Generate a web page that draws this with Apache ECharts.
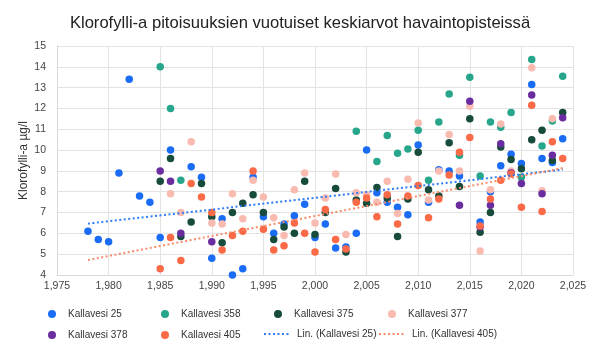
<!DOCTYPE html>
<html>
<head>
<meta charset="utf-8">
<script src="https://cdn.jsdelivr.net/npm/echarts@6/dist/echarts.min.js"></script>
<style>
    html, body { margin: 0; padding: 0; background: #fff; }
    #chart { width: 600px; height: 353px; }
</style>
</head>
<body>
<div id="chart"></div>
<script>
// vuosi, keskiarvo (µg/l)
const kallavesi25 = [
    [1978, 6.1], [1979, 5.7], [1980, 5.6], [1981, 8.9], [1982, 13.4], [1983, 7.8], [1984, 7.5],
    [1985, 5.8], [1986, 10.0], [1988, 9.2], [1989, 8.7], [1990, 4.8], [1991, 6.7], [1992, 4.0],
    [1993, 4.3], [1994, 8.7], [1995, 6.8], [1996, 6.0], [1997, 6.45], [1998, 6.85], [1999, 7.4],
    [2000, 5.8], [2001, 6.45], [2002, 5.3], [2003, 5.35], [2004, 6.0], [2005, 10.0], [2006, 7.95],
    [2007, 7.5], [2008, 7.25], [2009, 6.9], [2010, 10.25], [2011, 7.5], [2012, 9.05], [2013, 9.0],
    [2014, 8.75], [2016, 6.55], [2017, 8.0], [2018, 9.25], [2019, 9.8], [2020, 9.35], [2021, 13.15],
    [2022, 9.6], [2023, 9.4], [2024, 10.55]
];
const kallavesi358 = [
    [1985, 14.0], [1986, 12.0], [1987, 8.55], [2004, 10.9], [2006, 9.45], [2007, 10.7], [2008, 9.85],
    [2009, 10.05], [2010, 10.95], [2011, 8.55], [2012, 11.35], [2013, 12.7], [2014, 9.75], [2015, 13.5],
    [2016, 8.75], [2017, 11.35], [2018, 11.1], [2019, 11.8], [2020, 8.7], [2021, 14.35], [2022, 10.2],
    [2023, 11.4], [2024, 13.55]
];
const kallavesi375 = [
    [1985, 8.5], [1986, 9.6], [1987, 5.85], [1988, 6.55], [1989, 8.4], [1990, 6.8], [1991, 5.55],
    [1992, 7.0], [1993, 7.45], [1994, 7.85], [1995, 7.0], [1996, 5.7], [1997, 6.3], [1998, 6.0],
    [1999, 8.5], [2000, 5.95], [2001, 7.0], [2002, 8.15], [2003, 5.1], [2004, 7.6], [2005, 7.45],
    [2006, 8.2], [2007, 7.7], [2008, 5.85], [2009, 7.65], [2010, 9.9], [2011, 8.1], [2012, 7.8],
    [2013, 10.35], [2014, 8.25], [2015, 11.5], [2016, 6.05], [2017, 7.0], [2018, 10.15], [2019, 9.55],
    [2020, 9.1], [2021, 10.5], [2022, 10.95], [2023, 9.5], [2024, 11.8]
];
const kallavesi377 = [
    [1986, 7.9], [1987, 7.0], [1988, 10.4], [1990, 6.5], [1991, 6.45], [1992, 7.9], [1993, 6.7],
    [1994, 8.55], [1995, 7.75], [1996, 6.75], [1997, 5.9], [1998, 8.1], [1999, 8.9], [2000, 6.5],
    [2001, 7.7], [2002, 8.85], [2003, 5.95], [2004, 7.95], [2005, 7.85], [2006, 7.5], [2007, 8.5],
    [2008, 6.95], [2009, 8.6], [2010, 11.3], [2011, 7.6], [2012, 9.0], [2013, 10.75], [2014, 9.0],
    [2015, 12.1], [2016, 5.15], [2017, 8.1], [2018, 11.25], [2019, 9.0], [2021, 13.95], [2022, 8.05],
    [2023, 11.5]
];
const kallavesi378 = [
    [1985, 9.0], [1986, 8.5], [1987, 6.0], [1990, 5.6], [2014, 7.35], [2015, 12.35], [2016, 6.3],
    [2017, 7.35], [2018, 10.3], [2019, 8.9], [2020, 8.4], [2021, 12.65], [2022, 7.9], [2023, 9.75],
    [2024, 11.55]
];
const kallavesi405 = [
    [1985, 4.3], [1986, 5.8], [1987, 4.7], [1988, 8.4], [1989, 7.75], [1990, 7.0], [1991, 5.2],
    [1992, 5.9], [1993, 6.1], [1994, 9.0], [1995, 6.2], [1996, 5.2], [1997, 5.4], [1998, 6.5],
    [1999, 6.0], [2000, 5.1], [2001, 7.15], [2002, 5.7], [2003, 5.25], [2004, 7.5], [2005, 7.7],
    [2006, 6.8], [2007, 7.85], [2008, 6.45], [2009, 7.8], [2010, 8.3], [2011, 6.75], [2012, 7.65],
    [2013, 8.8], [2014, 9.9], [2015, 10.6], [2016, 6.35], [2017, 7.65], [2018, 8.55], [2019, 8.85],
    [2020, 7.25], [2021, 12.15], [2022, 7.05], [2023, 10.4], [2024, 9.6]
];
const trendRange = [1978, 2024];

// lineaarinen trendi (pienimmän neliösumman sovitus)
function linTrend(points) {
    let n = points.length, sx = 0, sy = 0, sxx = 0, sxy = 0;
    points.forEach(p => { sx += p[0]; sy += p[1]; sxx += p[0] * p[0]; sxy += p[0] * p[1]; });
    let k = (n * sxy - sx * sy) / (n * sxx - sx * sx);
    let b = (sy - k * sx) / n;
    return trendRange.map(x => [x, k * x + b]);
}

const font = '"Liberation Sans", Arial, sans-serif';

let chartDom = document.getElementById('chart');
let chart = echarts.init(chartDom, null, { renderer: 'canvas' });

function scatter(name, data, color) {
    return {
        name: name,
        type: 'scatter',
        data: data,
        symbolSize: 7.5,
        itemStyle: { color: color, opacity: 1 },
        animation: false
    };
}

function trend(name, data, color) {
    return {
        name: name,
        type: 'line',
        data: linTrend(data),
        symbol: 'none',
        showSymbol: false,
        lineStyle: { color: color, width: 2, type: [2, 2.5] },
        itemStyle: { color: color },
        z: 3,
        animation: false
    };
}

function legendItem(name, left, top, isLine) {
    let item = {
        data: [name],
        left: left,
        top: top,
        padding: 0,
        itemWidth: isLine ? 27 : 8,
        itemHeight: isLine ? 12 : 8,
        selectedMode: false,
        textStyle: {
            fontFamily: font,
            fontSize: 10,
            color: '#333',
            padding: isLine ? [0, 0, 0, 1] : [0, 0, 0, 7]
        }
    };
    if (isLine) {
        item.itemStyle = { opacity: 0 };
    } else {
        item.icon = 'circle';
    }
    return item;
}

let option = {
    backgroundColor: '#fff',
    textStyle: { fontFamily: font },
    title: {
        text: 'Klorofylli-a pitoisuuksien vuotuiset keskiarvot havaintopisteissä',
        left: 'center',
        top: 10,
        textStyle: { fontFamily: font, fontSize: 16.6, fontWeight: 'normal', color: '#222' }
    },
    grid: { left: 57, right: 27, top: 46, bottom: 78 },
    legend: [
        legendItem('Kallavesi 25', 48, 309),
        legendItem('Kallavesi 358', 161, 309),
        legendItem('Kallavesi 375', 274, 309),
        legendItem('Kallavesi 377', 388, 309),
        legendItem('Kallavesi 378', 48, 330),
        legendItem('Kallavesi 405', 161, 330),
        legendItem('Lin. (Kallavesi 25)', 263, 329, true),
        legendItem('Lin. (Kallavesi 405)', 378, 329, true)
    ],
    xAxis: {
        type: 'value',
        min: 1975,
        max: 2025,
        interval: 5,
        axisLine: { show: true, lineStyle: { color: '#d9d9d9' } },
        axisTick: { show: false },
        axisLabel: { color: '#444', fontSize: 10.5, margin: 6, fontFamily: font },
        splitLine: { show: true, lineStyle: { color: '#e3e3e3' } }
    },
    yAxis: {
        type: 'value',
        min: 4,
        max: 15,
        interval: 1,
        name: 'Klorofylli-a µg/l',
        nameLocation: 'middle',
        nameGap: 27,
        nameMoveOverlap: false,
        nameTextStyle: { color: '#333', fontSize: 12, fontFamily: font },
        axisLine: { show: true, lineStyle: { color: '#d9d9d9' } },
        axisTick: { show: false },
        axisLabel: { color: '#444', fontSize: 10.5, margin: 11, fontFamily: font },
        splitLine: { show: true, lineStyle: { color: '#e3e3e3' } }
    },
    series: [
        scatter('Kallavesi 25', kallavesi25, '#1a6cf5'),
        scatter('Kallavesi 358', kallavesi358, '#27a68b'),
        scatter('Kallavesi 375', kallavesi375, '#174c3d'),
        scatter('Kallavesi 377', kallavesi377, '#f9bab0'),
        scatter('Kallavesi 378', kallavesi378, '#6a2d9f'),
        scatter('Kallavesi 405', kallavesi405, '#fb6a47'),
        trend('Lin. (Kallavesi 25)', kallavesi25, '#2e7cf6'),
        trend('Lin. (Kallavesi 405)', kallavesi405, '#f98a69')
    ]
};

chart.setOption(option);

window.addEventListener('resize', () => {
    chart.resize();
});
</script>
</body>
</html>
